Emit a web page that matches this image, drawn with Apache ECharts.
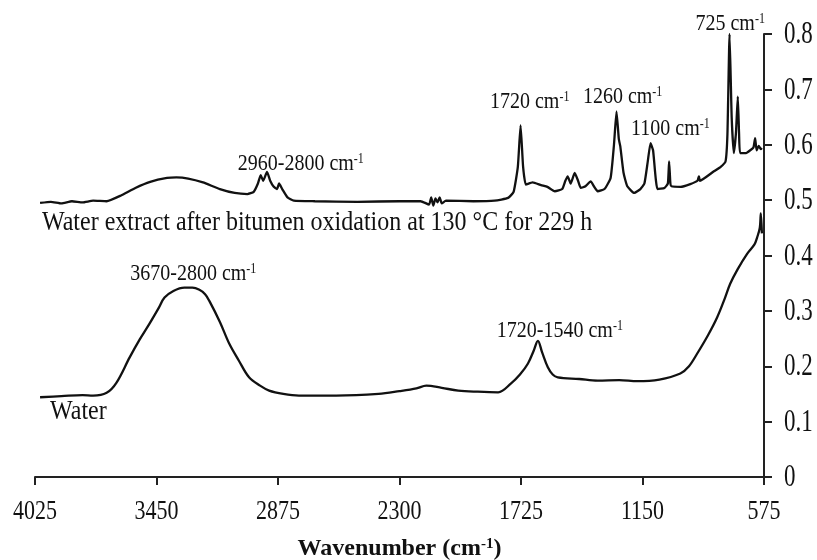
<!DOCTYPE html>
<html>
<head>
<meta charset="utf-8">
<script src="https://cdn.jsdelivr.net/npm/echarts@6/dist/echarts.min.js"></script>
<style>
  html, body { margin: 0; padding: 0; background: #fff; }
  #chart { width: 817px; height: 560px; }
</style>
</head>
<body>
<div id="chart"></div>
<script>
// wavenumber (cm-1), absorbance
const extractSpectrum = [
  [4001, 0.495], [3950, 0.497], [3900, 0.494], [3850, 0.498], [3800, 0.496], [3750, 0.499],
  [3686, 0.498], [3620, 0.508], [3550, 0.522], [3480, 0.533], [3400, 0.540], [3356, 0.541],
  [3300, 0.539], [3230, 0.532], [3150, 0.520], [3080, 0.513], [3020, 0.511], [2990, 0.515],
  [2970, 0.530], [2957, 0.545], [2945, 0.535], [2927, 0.551], [2912, 0.535], [2895, 0.524],
  [2880, 0.520], [2870, 0.530], [2855, 0.520], [2830, 0.505], [2800, 0.499], [2700, 0.498],
  [2500, 0.497], [2300, 0.498], [2200, 0.498], [2160, 0.492], [2150, 0.505], [2140, 0.490],
  [2130, 0.503], [2120, 0.496], [2110, 0.505], [2100, 0.494], [2080, 0.499], [1950, 0.498],
  [1850, 0.499], [1786, 0.504], [1760, 0.515], [1740, 0.560], [1727, 0.635], [1715, 0.560],
  [1702, 0.528], [1670, 0.532], [1630, 0.527], [1600, 0.524], [1565, 0.516], [1530, 0.520],
  [1515, 0.535], [1504, 0.543], [1490, 0.530], [1471, 0.549], [1455, 0.535], [1442, 0.522],
  [1420, 0.525], [1395, 0.534], [1380, 0.525], [1362, 0.516], [1330, 0.520], [1301, 0.540],
  [1285, 0.600], [1273, 0.660], [1262, 0.610], [1255, 0.597], [1240, 0.550], [1222, 0.525],
  [1189, 0.513], [1160, 0.520], [1141, 0.530], [1125, 0.570], [1112, 0.603], [1100, 0.590],
  [1079, 0.520], [1046, 0.522], [1030, 0.530], [1024, 0.570], [1018, 0.530], [1013, 0.525],
  [970, 0.524], [924, 0.529], [890, 0.535], [883, 0.543], [878, 0.535], [812, 0.552],
  [780, 0.560], [757, 0.570], [748, 0.620], [738, 0.800], [728, 0.650], [718, 0.585],
  [708, 0.620], [699, 0.687], [693, 0.620], [688, 0.585], [660, 0.585], [640, 0.590],
  [625, 0.595], [617, 0.612], [610, 0.590], [600, 0.598], [590, 0.592], [585, 0.594]
];

const waterSpectrum = [
  [4001, 0.144], [3900, 0.146], [3800, 0.148], [3750, 0.147], [3686, 0.152], [3640, 0.170],
  [3577, 0.216], [3530, 0.248], [3483, 0.277], [3440, 0.305], [3412, 0.324], [3370, 0.336],
  [3318, 0.342], [3280, 0.342], [3247, 0.338], [3220, 0.330], [3200, 0.318], [3150, 0.280],
  [3106, 0.241], [3060, 0.210], [3012, 0.180], [2960, 0.165], [2917, 0.156], [2850, 0.150],
  [2776, 0.147], [2600, 0.147], [2399, 0.150], [2300, 0.155], [2220, 0.160], [2173, 0.165],
  [2100, 0.161], [2022, 0.156], [1930, 0.154], [1833, 0.153], [1772, 0.169], [1730, 0.185],
  [1692, 0.205], [1665, 0.228], [1645, 0.246], [1625, 0.225], [1598, 0.198], [1575, 0.185],
  [1551, 0.180], [1450, 0.177], [1362, 0.174], [1260, 0.175], [1174, 0.173], [1070, 0.176],
  [971, 0.187], [930, 0.200], [891, 0.223], [840, 0.256], [797, 0.288], [760, 0.323],
  [735, 0.349], [700, 0.375], [655, 0.403], [620, 0.420], [608, 0.432], [595, 0.450],
  [590, 0.476], [585, 0.440]
];

const xTicks = [4025, 3450, 2875, 2300, 1725, 1150, 575];
const yTicks = [0, 0.1, 0.2, 0.3, 0.4, 0.5, 0.6, 0.7, 0.8];

// annotation texts and where they sit, in data units
const noteTexts = [
  '725 cm{s|-1}', '1720 cm{s|-1}', '1260 cm{s|-1}', '1100 cm{s|-1}', '2960-2800 cm{s|-1}',
  'Water extract after bitumen oxidation at 130 °C for 229 h',
  '3670-2800 cm{s|-1}', '1720-1540 cm{s|-1}', 'Water'
];
const notePos = [
  [735, 0.818], [1684, 0.678], [1244, 0.687], [1018, 0.629], [2767, 0.565],
  [3992, 0.459], [3276, 0.367], [1541, 0.264], [3954, 0.117]
];
const noteAlign = ['center', 'center', 'center', 'center', 'center', 'left', 'center', 'center', 'left'];
const noteSize = [20, 20, 20, 20, 20, 24, 20, 20, 24];

const xMin = 575, xMax = 4025, xStep = 575;
const yMin = 0, yMax = 0.8, yStep = 0.1;

const serif = 'Liberation Serif';
const ink = '#111';
const chart = echarts.init(document.getElementById('chart'));

const option = {
  animation: false,
  backgroundColor: '#fff',
  grid: { left: 35, right: 53, top: 34, bottom: 83, containLabel: false, outerBoundsMode: 'none' },
  xAxis: {
    type: 'value',
    inverse: true,
    min: xMin,
    max: xMax,
    interval: xStep,
    name: 'Wavenumber (cm{s|-1})',
    nameLocation: 'middle',
    nameGap: 60,
    nameTextStyle: {
      fontFamily: serif, fontSize: 24, fontWeight: 'bold', color: ink,
      rich: { s: { fontFamily: serif, fontSize: 15, fontWeight: 'bold', verticalAlign: 'top', color: ink } }
    },
    splitLine: { show: false },
    axisLine: { lineStyle: { color: '#222', width: 2 } },
    axisTick: { length: 8, lineStyle: { color: '#222', width: 2 } },
    axisLabel: { show: false }
  },
  yAxis: {
    type: 'value',
    position: 'right',
    min: yMin,
    max: yMax,
    interval: yStep,
    splitLine: { show: false },
    axisLine: { show: true, lineStyle: { color: '#222', width: 2 } },
    axisTick: { show: true, length: 8, lineStyle: { color: '#222', width: 2 } },
    axisLabel: { show: false }
  },
  series: [
    {
      name: 'Water extract',
      type: 'line',
      data: extractSpectrum,
      showSymbol: false,
      smooth: 0.15,
      lineStyle: { color: ink, width: 2.3 }
    },
    {
      name: 'Water',
      type: 'line',
      data: waterSpectrum,
      showSymbol: false,
      smooth: 0.35,
      lineStyle: { color: ink, width: 2.3 }
    }
  ]
};
chart.setOption(option);

// tick labels and notes are drawn as text placed through the axes,
// stretched a little upward as in the original figure
const toPx = v => chart.convertToPixel({ gridIndex: 0 }, v);
const graphics = [];

xTicks.forEach(t => {
  const p = toPx([t, 0]);
  graphics.push({
    type: 'text', x: p[0], y: p[1] + 35, scaleY: 1.2, silent: true,
    style: { text: String(t), fontFamily: serif, fontSize: 22, fill: ink, align: 'center', verticalAlign: 'middle' }
  });
});

yTicks.forEach(t => {
  const p = toPx([xMin, t]);
  graphics.push({
    type: 'text', x: p[0] + 20, y: p[1] + 1, scaleY: 1.35, silent: true,
    style: { text: String(t), fontFamily: serif, fontSize: 23, fill: ink, align: 'left', verticalAlign: 'middle' }
  });
});

noteTexts.forEach((t, i) => {
  const p = toPx(notePos[i]);
  graphics.push({
    type: 'text', x: p[0], y: p[1], scaleY: 1.15, silent: true,
    style: {
      text: t,
      fontFamily: serif,
      fontSize: noteSize[i],
      fill: ink,
      align: noteAlign[i],
      verticalAlign: 'middle',
      rich: { s: { fontFamily: serif, fontSize: Math.round(noteSize[i] * 0.6), verticalAlign: 'top', fill: ink } }
    }
  });
});

chart.setOption({ graphic: graphics });
</script>
</body>
</html>
